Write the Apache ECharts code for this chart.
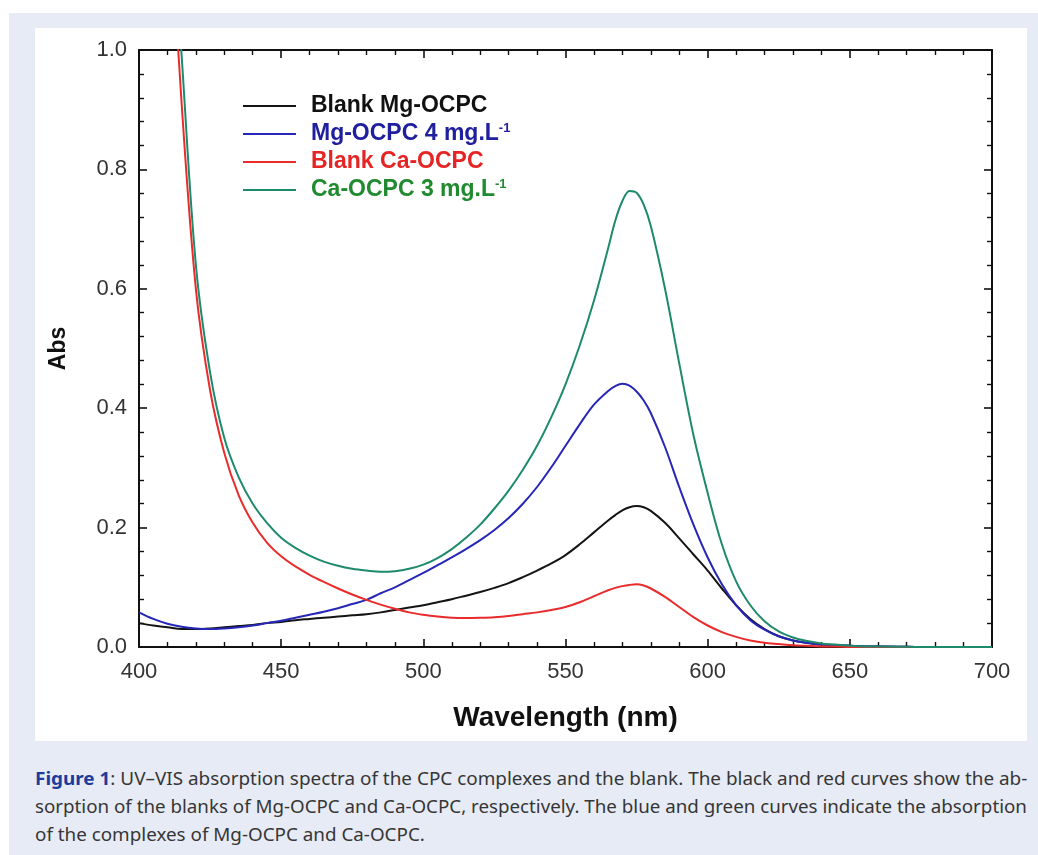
<!DOCTYPE html>
<html>
<head>
<meta charset="utf-8">
<script src="https://cdn.jsdelivr.net/npm/echarts@6/dist/echarts.min.js"></script>
<style>
  html, body { margin:0; padding:0; background:#ffffff; }
  #frame { position:absolute; left:9px; top:13px; width:1029px; height:842px; background:#e7ebf5; }
  #panel { position:absolute; left:35px; top:28px; width:992px; height:713px; background:#ffffff; }
  #chart { position:absolute; left:0; top:0; width:1038px; height:750px; }
  #caption { position:absolute; left:35px; top:764px; width:992px; font-family:"Noto Sans","Open Sans",sans-serif; font-size:18.5px; line-height:28px; color:#363636; }
  #caption div { white-space:nowrap; height:28px; }
  #caption span.ln { display:inline-block; white-space:nowrap; transform-origin:0 50%; }
  #caption b { color:#1c3c9c; }
</style>
</head>
<body>
<div id="frame"></div>
<div id="panel"></div>
<div id="chart"></div>
<div id="caption">
  <div><span class="ln"><b>Figure 1</b>: UV–VIS absorption spectra of the CPC complexes and the blank. The black and red curves show the ab-</span></div>
  <div><span class="ln">sorption of the blanks of Mg-OCPC and Ca-OCPC, respectively. The blue and green curves indicate the absorption</span></div>
  <div><span class="ln">of the complexes of Mg-OCPC and Ca-OCPC.</span></div>
</div>
<script>
const wavelengths = [400,405,410,415,420,425,430,435,440,445,450,455,460,465,470,475,480,485,490,495,500,505,510,515,520,525,530,535,540,545,550,555,560,565,567.5,570,572.5,575,577.5,580,585,590,595,600,605,610,615,620,625,630,635,640,645,650,655,660,680,700];

const blankMg = [0.040,0.036,0.033,0.030,0.030,0.031,0.033,0.035,0.037,0.040,0.042,0.045,0.047,0.049,0.051,0.053,0.055,0.058,0.062,0.066,0.070,0.075,0.080,0.086,0.092,0.099,0.107,0.117,0.128,0.140,0.154,0.172,0.192,0.212,0.221,0.229,0.234,0.236,0.234,0.228,0.208,0.182,0.155,0.128,0.098,0.070,0.047,0.030,0.018,0.011,0.007,0.004,0.003,0.002,0.001,0.001,0.000,0.000];

const mgOCPC = [0.058,0.047,0.039,0.034,0.031,0.030,0.031,0.033,0.036,0.040,0.044,0.049,0.054,0.059,0.065,0.072,0.079,0.090,0.100,0.112,0.124,0.137,0.150,0.164,0.179,0.196,0.216,0.240,0.268,0.301,0.337,0.373,0.406,0.429,0.437,0.441,0.438,0.428,0.413,0.392,0.335,0.268,0.205,0.150,0.105,0.070,0.045,0.029,0.018,0.011,0.007,0.004,0.003,0.002,0.001,0.001,0.000,0.000];

const blankCa = [null,null,1.30,0.91,0.60,0.43,0.325,0.255,0.208,0.175,0.152,0.135,0.121,0.109,0.098,0.088,0.079,0.071,0.064,0.058,0.054,0.051,0.049,0.0485,0.049,0.050,0.052,0.055,0.058,0.062,0.067,0.075,0.085,0.095,0.099,0.102,0.104,0.105,0.103,0.098,0.084,0.067,0.050,0.036,0.025,0.017,0.011,0.007,0.005,0.003,0.002,0.001,0.001,0.000,0.000,0.000,0.000,0.000];

const caOCPC = [null,null,1.35,0.99,0.64,0.46,0.35,0.285,0.240,0.208,0.183,0.166,0.153,0.143,0.136,0.131,0.128,0.126,0.127,0.131,0.138,0.149,0.164,0.183,0.205,0.232,0.262,0.297,0.337,0.385,0.440,0.505,0.580,0.668,0.714,0.747,0.764,0.761,0.741,0.705,0.600,0.475,0.355,0.258,0.172,0.110,0.070,0.043,0.026,0.016,0.010,0.006,0.004,0.002,0.001,0.001,0.000,0.000];

const seriesNames = ['Blank Mg-OCPC','Mg-OCPC 4 mg.L','Blank Ca-OCPC','Ca-OCPC 3 mg.L'];
const lineColors = ['#141414','#2626b8','#ea2b2b','#1d8a6c'];
const textColors = ['#111111','#20209f','#e62424','#1f8a2e'];
const xTicks = [400,450,500,550,600,650,700];
const yTicks = [0.0,0.2,0.4,0.6,0.8,1.0];

const pairs = arr => wavelengths.map((w,i) => [w, arr[i]]);
const allData = [blankMg, mgOCPC, blankCa, caOCPC];
const FONT = 'Liberation Sans, Arial, sans-serif';

const chart = echarts.init(document.getElementById('chart'), null, {renderer:'canvas'});

const axisCommon = {
  axisLine: { show:true, onZero:false, lineStyle:{ color:'#111', width:2 } },
  axisTick: { show:true, inside:true, length:8, lineStyle:{ color:'#111', width:1.6 } },
  minorTick: { show:true, splitNumber:5, length:5, lineStyle:{ color:'#111', width:1.4 } },
  splitLine: { show:false }
};

chart.setOption({
  animation:false,
  backgroundColor:'transparent',
  grid: { left:139, top:50, width:853, height:597 },
  legend: {
    orient:'vertical', left:243, top:94, padding:0, itemWidth:53, itemHeight:2, itemGap:4,
    icon:'rect', selectedMode:false,
    textStyle: {
      fontFamily:FONT, fontSize:23, fontWeight:'bold', lineHeight:24,
      padding:[0,0,0,10],
      rich: {
        a: { fontFamily:FONT, fontSize:23, fontWeight:'bold', lineHeight:24 },
        s: { fontFamily:FONT, fontSize:13, fontWeight:'bold', lineHeight:14, verticalAlign:'top' }
      }
    },
    formatter: name => name.endsWith('mg.L') ? '{a|' + name + '}{s|-1}' : name,
    data: seriesNames.map((n,i) => ({ name:n, textStyle:{ color:textColors[i] } }))
  },
  xAxis: [
    Object.assign({}, axisCommon, {
      type:'value', min:xTicks[0], max:xTicks[xTicks.length-1], interval:50, position:'bottom',
      name:'Wavelength (nm)', nameLocation:'middle', nameGap:57,
      nameTextStyle:{ fontFamily:FONT, fontSize:28, fontWeight:'bold', color:'#111' },
      axisLabel:{ margin:14, fontFamily:FONT, fontSize:22, color:'#333' }
    }),
    Object.assign({}, axisCommon, {
      type:'value', min:xTicks[0], max:xTicks[xTicks.length-1], interval:50, position:'top',
      axisLabel:{ show:false }
    })
  ],
  yAxis: [
    Object.assign({}, axisCommon, {
      type:'value', min:yTicks[0], max:yTicks[yTicks.length-1], interval:0.2, position:'left',
      name:'Abs', nameLocation:'middle', nameGap:69,
      nameTextStyle:{ fontFamily:FONT, fontSize:23, fontWeight:'bold', color:'#111' },
      axisLabel:{ margin:12, fontFamily:FONT, fontSize:22, color:'#333', formatter: v => v.toFixed(1) }
    }),
    Object.assign({}, axisCommon, {
      type:'value', min:yTicks[0], max:yTicks[yTicks.length-1], interval:0.2, position:'right',
      axisLabel:{ show:false }
    })
  ],
  series: seriesNames.map((n,i) => ({
    name:n, type:'line', xAxisIndex:0, yAxisIndex:0,
    data: pairs(allData[i]),
    showSymbol:false, symbol:'none', smooth:0.35, clip:true,
    lineStyle:{ color:lineColors[i], width:2 },
    itemStyle:{ color:lineColors[i] }
  }))
});

// fit caption lines to the justified width
(function () {
  const spans = document.querySelectorAll('#caption span.ln');
  const full = 992;
  const s1 = full / spans[0].offsetWidth;
  const s2 = full / spans[1].offsetWidth;
  spans[0].style.transform = 'scaleX(' + s1 + ')';
  spans[1].style.transform = 'scaleX(' + s2 + ')';
  spans[2].style.transform = 'scaleX(' + ((s1 + s2) / 2) + ')';
})();
</script>
</body>
</html>
